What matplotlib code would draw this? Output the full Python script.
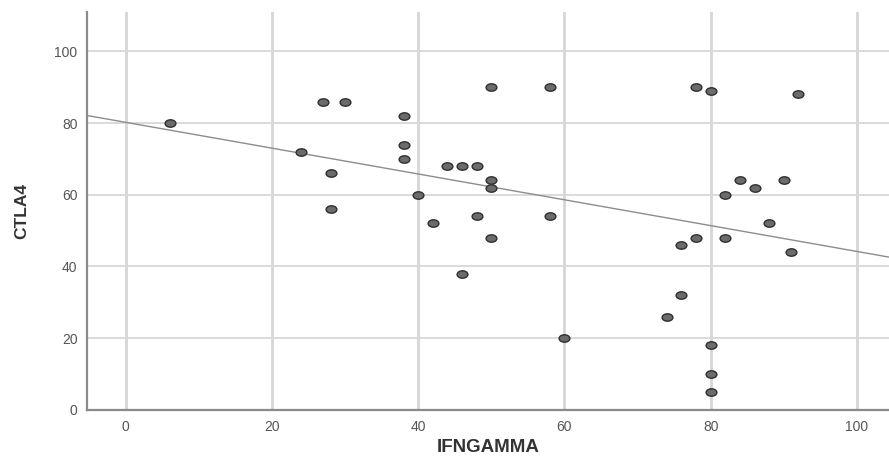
import numpy as np
import matplotlib
matplotlib.use("Agg")
import matplotlib.pyplot as plt
from matplotlib.path import Path
from matplotlib.transforms import Affine2D

# ------------------------------------------------------------
# Dados (IFNGAMMA x CTLA4)
ifngamma = [6, 24, 27, 30, 28, 28, 38, 38, 38, 40, 42, 44, 46, 48, 50, 50,
            50, 48, 50, 46, 58, 58, 60,
            78, 80, 92, 84, 86, 90, 82, 88, 78, 76, 82, 91, 76, 74, 80, 80, 80]
ctla4 = [80, 72, 86, 86, 66, 56, 82, 74, 70, 60, 52, 68, 68, 68, 64, 62,
         90, 54, 48, 38, 90, 54, 20,
         90, 89, 88, 64, 62, 64, 60, 52, 48, 46, 48, 44, 32, 26, 18, 10, 5]

# reta de ajuste
fit_intercept = 80.2
fit_slope = -0.36

x_ticks = [0, 20, 40, 60, 80, 100]
y_ticks = [0, 20, 40, 60, 80, 100]

plt.rcParams["font.family"] = ["Liberation Sans", "DejaVu Sans"]

fig = plt.figure(figsize=(8.89, 4.59), dpi=100)
ax = fig.add_axes([0.098, 0.107, 0.902, 0.867])

# marcador levemente elíptico, como no original
ellipse = Path.unit_circle().transformed(Affine2D().scale(1.45, 1.0))

ax.scatter(ifngamma, ctla4, marker=ellipse, s=60, facecolor="#6b6b6b",
           edgecolor="#2e2e2e", linewidths=1.0, zorder=3)

x_lim = (-5.3, 104.4)
xs = np.array(x_lim)
ax.plot(xs, fit_intercept + fit_slope * xs, color="#8c8c8c", linewidth=1.0,
        zorder=2)

ax.set_xlim(*x_lim)
ax.set_ylim(0, 111)
ax.set_xticks(x_ticks)
ax.set_yticks(y_ticks)

ax.grid(axis="x", color="#d6d6d6", linewidth=2.0, zorder=0)
ax.grid(axis="y", color="#dadada", linewidth=1.4, zorder=0)
ax.set_axisbelow(True)

for s in ["top", "right"]:
    ax.spines[s].set_visible(False)
for s in ["left", "bottom"]:
    ax.spines[s].set_color("#8a8a8a")
    ax.spines[s].set_linewidth(1.6)

ax.tick_params(length=0, labelsize=10, labelcolor="#555555", pad=7)

ax.set_xlabel("IFNGAMMA", fontsize=13.5, fontweight="bold", color="#333333",
              labelpad=4)
ax.set_ylabel("CTLA4", fontsize=12.5, fontweight="bold", color="#333333",
              labelpad=18)

fig.savefig("out.png", dpi=100)
